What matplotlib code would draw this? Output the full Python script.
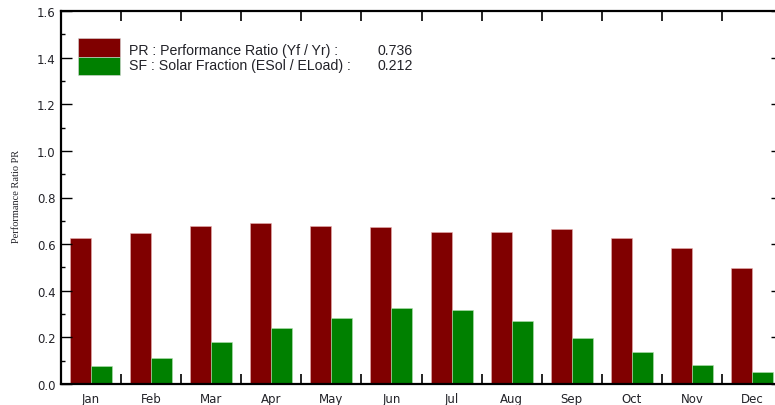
import matplotlib
matplotlib.use("Agg")
import matplotlib.pyplot as plt
import numpy as np
from matplotlib.patches import Rectangle
from matplotlib.ticker import MultipleLocator, FixedLocator

# monthly values
months = ["Jan", "Feb", "Mar", "Apr", "May", "Jun",
          "Jul", "Aug", "Sep", "Oct", "Nov", "Dec"]
pr_values = [0.625, 0.648, 0.678, 0.692, 0.678, 0.672,
             0.653, 0.653, 0.663, 0.628, 0.582, 0.499]
sf_values = [0.077, 0.110, 0.179, 0.242, 0.282, 0.325,
             0.319, 0.270, 0.199, 0.136, 0.081, 0.053]

legend_labels = ["PR : Performance Ratio (Yf / Yr) :",
                 "SF : Solar Fraction (ESol / ELoad) :"]
legend_values = ["0.736", "0.212"]

pr_color = "#800000"
sf_color = "#008000"
text_color = "#222228"

W, H = 775, 406
fig = plt.figure(figsize=(W / 100, H / 100), dpi=100)
ax = fig.add_axes([61 / W, (H - 385) / H, (782 - 61) / W, (385 - 12) / H])

x = np.arange(len(months))
bw = 0.35
ax.bar(x + 0.325, pr_values, width=bw, color=pr_color,
       edgecolor="#e8b0b0", linewidth=0.4)
ax.bar(x + 0.675, sf_values, width=bw, color=sf_color,
       edgecolor="#b0e0b0", linewidth=0.4)

ax.set_xlim(0, 12)
ax.set_ylim(0, 1.6)

# month labels at group centres, boundary ticks inside
ax.xaxis.set_major_locator(FixedLocator(x + 0.5))
ax.set_xticklabels(months)
ax.xaxis.set_minor_locator(FixedLocator(np.arange(1, 12)))
ax.tick_params(axis="x", which="major", length=0, pad=6,
               labelsize=8.5, labelcolor=text_color)
ax.tick_params(axis="x", which="minor", direction="in", length=7,
               width=1.2, top=True, bottom=True)

ax.yaxis.set_major_locator(MultipleLocator(0.2))
ax.yaxis.set_minor_locator(MultipleLocator(0.1))
ax.set_yticklabels([f"{v:.1f}" for v in ax.get_yticks()])
ax.tick_params(axis="y", which="major", direction="in", length=8,
               width=1.0, left=True, right=True, pad=4,
               labelsize=8.5, labelcolor=text_color)
ax.tick_params(axis="y", which="minor", direction="in", length=3,
               width=1.0, left=True, right=True)

for s in ax.spines.values():
    s.set_linewidth(1.6)
    s.set_color("black")

for t in ax.get_xticklabels() + ax.get_yticklabels():
    t.set_fontfamily("DejaVu Sans")

fig.text(17 / W, 1 - 196 / H, "Performance Ratio PR", rotation=90,
         ha="center", va="center", fontsize=7.5,
         family="Liberation Serif", color=text_color)

# legend box drawn by hand (two stacked swatches + labels + values)
for i, (lab, val, col) in enumerate(zip(legend_labels, legend_values,
                                        [pr_color, sf_color])):
    y_top = 39.3 + i * 18.3
    fig.patches.append(Rectangle((78 / W, 1 - (y_top + 18.3) / H),
                                 42 / W, 18.3 / H, facecolor=col,
                                 edgecolor="#d8d8d8", linewidth=0.4,
                                 transform=fig.transFigure, zorder=5))
    yc = 1 - (50.7 + i * 15.5) / H
    fig.text(129 / W, yc, lab, ha="left", va="center", fontsize=10.2,
             family="Liberation Sans", color=text_color)
    fig.text(413 / W, yc, val, ha="right", va="center", fontsize=10.2,
             family="Liberation Sans", color=text_color)

fig.savefig("out.png", dpi=100)
